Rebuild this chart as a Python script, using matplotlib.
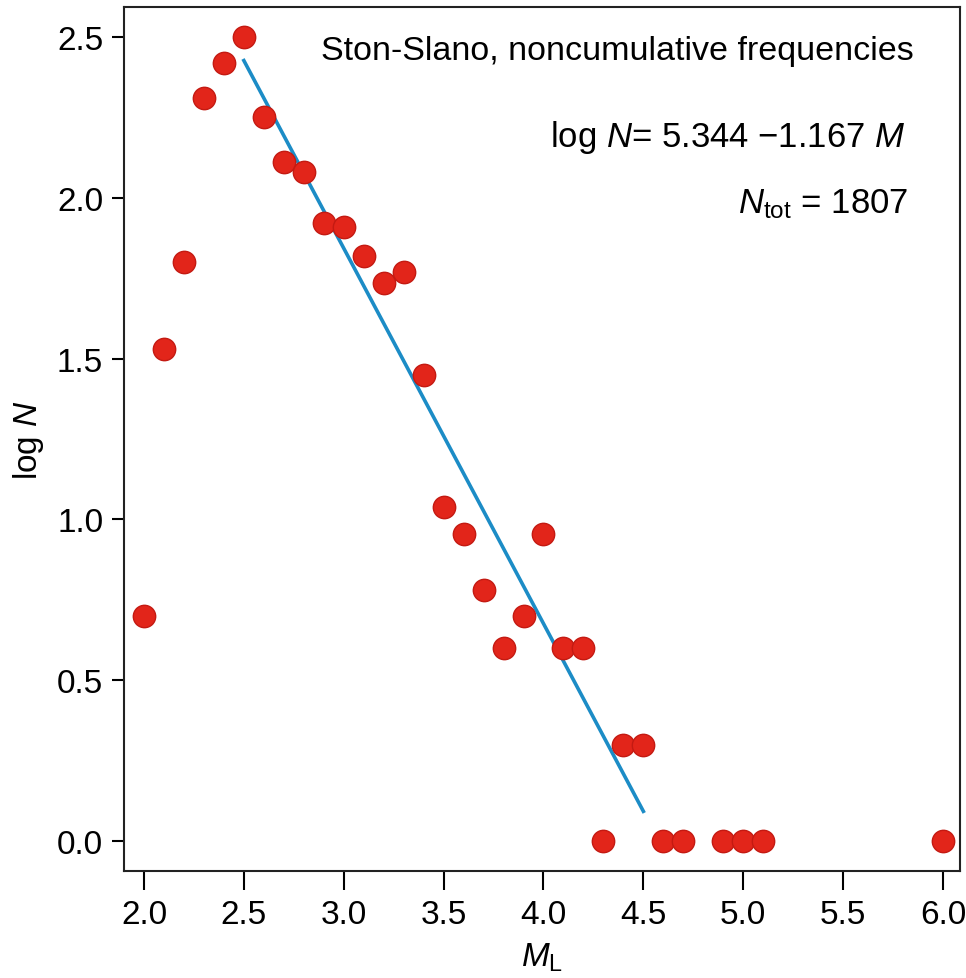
import matplotlib
matplotlib.use("Agg")
import matplotlib.pyplot as plt
import numpy as np

plt.rcParams['font.family'] = ['Liberation Sans', 'DejaVu Sans']
plt.rcParams['mathtext.fontset'] = 'custom'
plt.rcParams['mathtext.rm'] = 'Liberation Sans'
plt.rcParams['mathtext.it'] = 'Liberation Sans:italic'

magnitude = [2.0, 2.1, 2.2, 2.3, 2.4, 2.5, 2.6, 2.7, 2.8, 2.9, 3.0, 3.1, 3.2, 3.3,
             3.4, 3.5, 3.6, 3.7, 3.8, 3.9, 4.0, 4.1, 4.2, 4.3, 4.4, 4.5, 4.6, 4.7,
             4.9, 5.0, 5.1, 6.0]
log_n = [0.70, 1.53, 1.80, 2.31, 2.42, 2.50, 2.25, 2.11, 2.08, 1.92, 1.91, 1.82, 1.735, 1.77,
         1.45, 1.04, 0.955, 0.78, 0.60, 0.70, 0.955, 0.60, 0.60, 0.0, 0.30, 0.30, 0.0, 0.0,
         0.0, 0.0, 0.0, 0.0]
fit_a = 5.344
fit_b = 1.167
fit_range = [2.5, 4.5]
x_ticks = [2.0, 2.5, 3.0, 3.5, 4.0, 4.5, 5.0, 5.5, 6.0]
y_ticks = [0.0, 0.5, 1.0, 1.5, 2.0, 2.5]

fig = plt.figure(figsize=(9.66, 9.79), dpi=100)
ax = fig.add_axes([124/966, 1 - 872/979, (960-124)/966, (872-8)/979])

fx = np.array(fit_range)
ax.plot(fx, fit_a - fit_b * fx, color='#1c8cc6', lw=2.6, zorder=2)
ax.scatter(magnitude, log_n, s=260, color='#e2251a', edgecolors='#c41a12', linewidths=1, zorder=3)

ax.set_xlim(1.9, 6.085)
ax.set_ylim(-0.093, 2.593)
ax.set_xticks(x_ticks)
ax.set_yticks(y_ticks)
ax.set_xticklabels([f'{t:.1f}' for t in x_ticks])
ax.set_yticklabels([f'{t:.1f}' for t in y_ticks])
ax.tick_params(axis='x', length=14, width=1.5, labelsize=24, pad=6)
ax.tick_params(axis='y', length=9, width=1.5, labelsize=24, pad=6)
for s in ax.spines.values():
    s.set_linewidth(1.5)
    s.set_color('#222222')

ax.set_xlabel(r'$M_{\rm L}$', fontsize=24)
ax.xaxis.set_label_coords(0.5, -0.08)
ax.set_ylabel(r'log $N$', fontsize=24, labelpad=8)

ax.text(0.945, 0.95, 'Ston-Slano, noncumulative frequencies', transform=ax.transAxes,
        ha='right', va='center', fontsize=24.5)
ax.text(0.935, 0.85, r'log $N$= 5.344 $-$1.167 $M$', transform=ax.transAxes,
        ha='right', va='center', fontsize=25)
ax.text(0.938, 0.773, r'$N_{\rm tot}$ = 1807', transform=ax.transAxes,
        ha='right', va='center', fontsize=25)

fig.savefig('out.png', dpi=100)
